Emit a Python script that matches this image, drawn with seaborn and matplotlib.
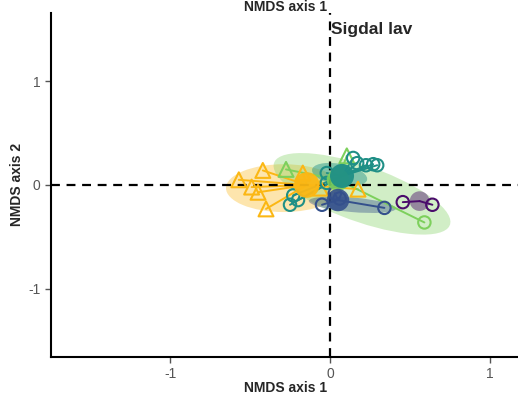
import numpy as np
import pandas as pd
import seaborn as sns
import matplotlib
matplotlib.use("Agg")
import matplotlib.pyplot as plt
from matplotlib.patches import Ellipse

# groups and colours
groups = ["yellow", "green", "teal", "blue", "purple"]
colors = {"yellow": "#FBB714", "green": "#7DD05C", "teal": "#1F8F86",
          "blue": "#34508C", "purple": "#4A0C6B"}

# site scores (NMDS1, NMDS2), group and marker shape
pt_x = [-0.57, -0.42, -0.49, -0.45, -0.40, -0.17, 0.175, -0.06,
        -0.275, 0.105, 0.59,
        -0.02, 0.145, 0.17, 0.225, 0.27, 0.295, -0.25, -0.20, -0.02, -0.23,
        0.34, -0.05, 0.03, 0.06,
        0.455, 0.64]
pt_y = [0.05, 0.14, -0.02, -0.07, -0.23, 0.115, -0.04, -0.03,
        0.15, 0.28, -0.36,
        0.115, 0.26, 0.21, 0.19, 0.20, 0.19, -0.19, -0.145, 0.02, -0.10,
        -0.22, -0.19, -0.08, -0.13,
        -0.165, -0.19]
pt_group = (["yellow"] * 8 + ["green"] * 3 + ["teal"] * 10 + ["blue"] * 4 + ["purple"] * 2)
pt_shape = (["tri"] * 8 + ["tri", "tri", "circ"] + ["circ"] * 10 + ["circ"] * 4 + ["circ"] * 2)

# group centroids
cen_x = {"yellow": -0.145, "green": 0.05, "teal": 0.075, "blue": 0.05, "purple": 0.56}
cen_y = {"yellow": 0.0, "green": 0.05, "teal": 0.087, "blue": -0.145, "purple": -0.155}
cen_size = {"yellow": 340, "green": 260, "teal": 300, "blue": 260, "purple": 200}
cen_alpha = {"yellow": 0.95, "green": 0.9, "teal": 0.95, "blue": 0.9, "purple": 0.45}

# dispersion ellipses: centre x, centre y, width, height, angle
ell = {"yellow": (-0.29, -0.03, 0.72, 0.46, 0),
       "green": (0.20, -0.085, 1.26, 0.50, -31.5),
       "teal": (0.06, 0.10, 0.36, 0.20, -20),
       "blue": (0.14, -0.19, 0.55, 0.14, -8)}
ell_alpha = {"yellow": 0.35, "green": 0.35, "teal": 0.45, "blue": 0.4}

df = pd.DataFrame({"x": pt_x, "y": pt_y, "group": pt_group, "shape": pt_shape})

sns.set_style("white")
plt.rcParams["font.family"] = ["Liberation Sans", "DejaVu Sans"]
plt.rcParams["axes.unicode_minus"] = False

fig = plt.figure(figsize=(5.18, 4.05), dpi=100)
ax = fig.add_axes([51 / 518, 48 / 405, 558 / 518, 344 / 405])

for g in ["yellow", "green", "blue", "teal"]:
    cx, cy, w, h, a = ell[g]
    ax.add_patch(Ellipse((cx, cy), w, h, angle=a, facecolor=colors[g],
                         alpha=ell_alpha[g], edgecolor="none", zorder=1))

# spider lines
for g in groups:
    sub = df[df.group == g]
    for _, r in sub.iterrows():
        ax.plot([r.x, cen_x[g]], [r.y, cen_y[g]], color=colors[g], lw=1.4, zorder=2)

ax.axhline(0, color="black", lw=1.6, ls=(0, (4, 3)), zorder=2.5)
ax.axvline(0, color="black", lw=1.6, ls=(0, (4, 3)), zorder=2.5)

# site points, open markers
order = ["yellow", "green", "teal", "blue", "purple"]
for g in order:
    sub = df[df.group == g]
    sns.scatterplot(data=sub, x="x", y="y", style="shape", markers={"tri": "^", "circ": "o"},
                    size="shape", sizes={"tri": 115, "circ": 80},
                    color=colors[g], legend=False, ax=ax, zorder=3)
    coll = ax.collections[-1]
    coll.set_facecolors("none")
    coll.set_edgecolors(colors[g])
    coll.set_linewidths(1.5)

# centroids
for g in order:
    ax.scatter([cen_x[g]], [cen_y[g]], s=cen_size[g], marker="o", color=colors[g],
               alpha=cen_alpha[g], edgecolor="none", zorder=4)

ax.set_xlim(-1.744, 1.744)
ax.set_ylim(-1.654, 1.654)
ax.set_xticks([-1, 0, 1])
ax.set_yticks([-1, 0, 1])
ax.set_xlabel("")
ax.set_ylabel("")
for s in ["top", "right"]:
    ax.spines[s].set_visible(False)
for s in ["left", "bottom"]:
    ax.spines[s].set_color("black")
    ax.spines[s].set_linewidth(1.5)
ax.tick_params(axis="both", direction="out", length=4, width=1, color="#555555",
               labelcolor="#555555", labelsize=10, bottom=True, left=True)

fig.text(286 / 518, 1 - 7 / 405, "NMDS axis 1", ha="center", va="center",
         fontsize=10, fontweight="bold")
fig.text(286 / 518, 1 - 388 / 405, "NMDS axis 1", ha="center", va="center",
         fontsize=10, fontweight="bold")
fig.text(17 / 518, 1 - 185 / 405, "NMDS axis 2", ha="center", va="center",
         rotation=90, fontsize=10, fontweight="bold")
ax.text(0.005, 1.5, "Sigdal lav", ha="left", va="center", fontsize=12.5, fontweight="bold")

fig.savefig("out.png", dpi=100)
